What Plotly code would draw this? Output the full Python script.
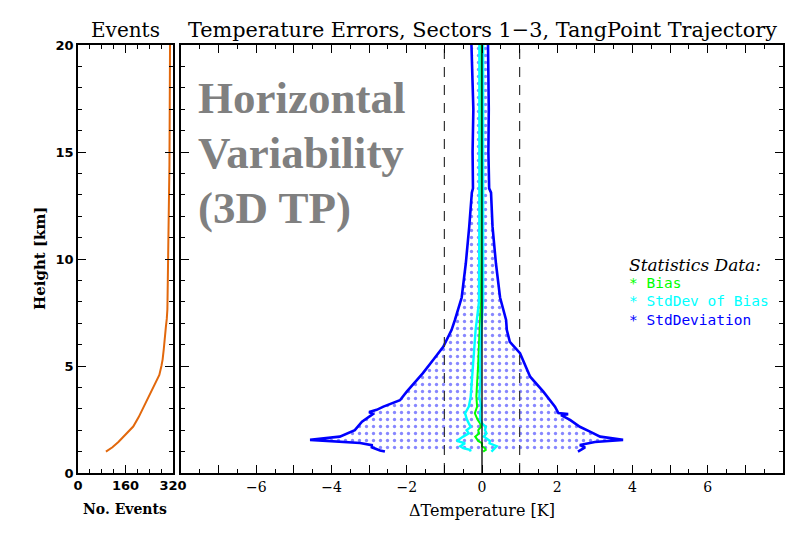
import plotly.graph_objects as go

# ---------------- data ----------------
# Events panel (number of events vs height)
event_heights = [1.0, 1.2, 1.45, 1.8, 2.17, 2.6, 3.05, 3.5, 3.94, 4.3, 4.58, 5.0, 5.3,
                 5.8, 6.18, 6.5, 6.83, 7.2, 7.63, 8.5, 9.24, 10.5, 11.6, 13.0, 14.4, 17.0, 20.0]
event_counts = [94, 116, 136, 162, 186, 204, 220, 238, 254, 266, 274, 281, 285,
                289, 291, 294, 296, 299, 301, 302, 303, 304, 305, 306, 308, 309, 310]

# StdDeviation envelope (left / right blue lines)
std_lower_h = [1.0, 1.05, 1.2, 1.3, 1.4, 1.55, 1.7, 2.0, 2.4, 2.75, 2.85, 2.95, 3.1, 3.4,
               3.8, 4.67, 5.28, 5.9, 6.68, 7.15, 8.2, 9.8, 11.5, 13.1, 13.3, 15.0, 17.0, 18.5, 20.0]
std_lower = [-2.58, -2.71, -2.93, -2.93, -3.24, -4.57, -3.78, -3.38, -3.19, -2.9, -3.0, -2.8,
             -2.62, -2.18, -2.0, -1.57, -1.30, -1.03, -0.81, -0.72, -0.54, -0.43, -0.34, -0.27,
             -0.24, -0.25, -0.23, -0.26, -0.28]
std_upper_h = [1.0, 1.2, 1.31, 1.45, 1.55, 1.7, 1.93, 2.16, 2.48, 2.7, 2.75, 2.8, 3.1, 3.8,
               4.5, 5.6, 6.13, 6.68, 7.15, 8.2, 9.8, 11.5, 13.1, 13.3, 15.0, 17.0, 20.0]
std_upper = [2.55, 2.74, 2.6, 3.0, 3.75, 3.14, 2.87, 2.6, 2.34, 2.1, 2.29, 2.03, 1.94, 1.63,
             1.28, 1.01, 0.74, 0.66, 0.64, 0.48, 0.37, 0.28, 0.24, 0.19, 0.17, 0.18, 0.16]

# Bias and StdDev of Bias
bias_h = [1.0, 1.08, 1.16, 1.25, 1.39, 1.5, 1.7, 1.85, 2.0, 2.15, 2.32, 2.5, 2.79, 3.1,
          3.57, 4.34, 5.12, 6.0, 6.68, 8.0, 10.0, 12.0, 14.0, 16.0, 18.0, 20.0]
bias = [0.03, 0.1, 0.08, 0.0, 0.0, -0.1, -0.18, -0.08, -0.1, -0.03, -0.05, -0.12, -0.19, -0.13,
        -0.15, -0.12, -0.1, -0.08, -0.06, -0.03, -0.02, -0.02, -0.02, -0.02, -0.02, -0.02]
sdbias_lower = [-0.3, -0.32, -0.5, -0.58, -0.45, -0.67, -0.5, -0.35, -0.41, -0.3, -0.35, -0.4,
                -0.45, -0.35, -0.3, -0.27, -0.25, -0.2, -0.17, -0.08, -0.07, -0.07, -0.07,
                -0.07, -0.07, -0.07]
sdbias_upper = [0.25, 0.3, 0.35, 0.39, 0.2, 0.21, 0.05, 0.12, 0.08, 0.1, 0.0, -0.04, -0.05,
                -0.02, -0.07, -0.04, -0.05, -0.03, -0.02, 0.03, 0.03, 0.03, 0.03, 0.03, 0.03, 0.03]

ref_lines = [-1.0, 1.0]
height_range = [0, 20]
event_ticks = [0, 160, 320]
temp_ticks = list(range(-8, 9))
temp_labels = ["" if (v % 2 or abs(v) == 8) else ("\u2212" + str(-v) if v < 0 else str(v)) for v in temp_ticks]

# ---------------- figure ----------------
# page body has an 8px margin, so the figure is 784x524 and offset by 8px
OFF = 8
W, H = 800 - 2 * OFF, 540 - 2 * OFF
def px(x):
    return (x - OFF) / W
def py(y):
    return 1 - (y - OFF) / H

fig = go.Figure()

BLUE = "#0000ff"
GREEN = "#00ff00"
CYAN = "#00ffff"
ORANGE = "#e2680c"

# events
fig.add_trace(go.Scatter(x=event_counts, y=event_heights, mode="lines",
                         line=dict(color=ORANGE, width=2), xaxis="x", yaxis="y",
                         showlegend=False, hoverinfo="skip"))

# dotted fill between std lines
poly_x = std_lower + std_upper[::-1]
poly_y = std_lower_h + std_upper_h[::-1]
fig.add_trace(go.Scatter(x=poly_x, y=poly_y, mode="none", fill="toself",
                         fillcolor="rgba(0,0,0,0)",
                         fillpattern=dict(shape=".", fgcolor="#1010ff", bgcolor="rgba(0,0,0,0)",
                                          size=7, solidity=0.18),
                         xaxis="x2", yaxis="y2", showlegend=False, hoverinfo="skip"))

for xs, ys in [(std_lower, std_lower_h), (std_upper, std_upper_h)]:
    fig.add_trace(go.Scatter(x=xs, y=ys, mode="lines", line=dict(color=BLUE, width=2.6),
                             xaxis="x2", yaxis="y2", showlegend=False, hoverinfo="skip"))

fig.add_trace(go.Scatter(x=bias, y=bias_h, mode="lines", line=dict(color=GREEN, width=2),
                         xaxis="x2", yaxis="y2", showlegend=False, hoverinfo="skip"))

for xs in [sdbias_lower, sdbias_upper]:
    fig.add_trace(go.Scatter(x=xs, y=bias_h, mode="lines", line=dict(color=CYAN, width=2.4),
                             xaxis="x2", yaxis="y2", showlegend=False, hoverinfo="skip"))

# reference lines
for xv in ref_lines:
    fig.add_trace(go.Scatter(x=[xv, xv], y=height_range, mode="lines",
                             line=dict(color="#333333", width=1.2, dash="10px,8px"),
                             xaxis="x2", yaxis="y2", showlegend=False, hoverinfo="skip"))
fig.add_trace(go.Scatter(x=[0, 0], y=height_range, mode="lines",
                         line=dict(color="black", width=1.3),
                         xaxis="x2", yaxis="y2", showlegend=False, hoverinfo="skip"))

tickfont_l = dict(family="DejaVu Sans", size=13, color="black", weight="bold")
tickfont_m = dict(family="DejaVu Serif", size=14, color="black")
common = dict(showline=True, linecolor="black", linewidth=1.5, mirror="allticks",
              ticks="inside", ticklen=8, tickwidth=1.2, tickcolor="black",
              showgrid=False, zeroline=False)

ydom = [py(473), py(45)]
fig.update_layout(
    width=W, height=H,
    margin=dict(l=0, r=0, t=0, b=0, autoexpand=False),
    paper_bgcolor="white", plot_bgcolor="white",
    xaxis=dict(domain=[px(78), px(173)], range=[0, 320], tickvals=event_ticks,
               tickfont=tickfont_l, anchor="y",
               minor=dict(ticks="inside", dtick=40, ticklen=4, tickcolor="black"), **common),
    yaxis=dict(domain=ydom, range=height_range, tickvals=[0, 5, 10, 15, 20],
               tickfont=tickfont_l, anchor="x",
               minor=dict(ticks="inside", dtick=1, ticklen=4, tickcolor="black"), **common),
    xaxis2=dict(domain=[px(181), px(783)], range=[-8, 8], tickvals=temp_ticks,
                ticktext=temp_labels, tickfont=tickfont_m, anchor="y2",
                minor=dict(ticks="inside", dtick=0.5, ticklen=4, tickcolor="black"), **common),
    yaxis2=dict(domain=ydom, range=height_range, tickvals=[0, 5, 10, 15, 20],
                showticklabels=False, anchor="x2",
                minor=dict(ticks="inside", dtick=1, ticklen=4, tickcolor="black"), **common),
)

serif = "DejaVu Serif"
def ann(text, x, y, size, color="black", family=serif, xanchor="center", angle=0, **kw):
    fig.add_annotation(text=text, x=px(x), y=py(y), xref="paper", yref="paper",
                       showarrow=False, xanchor=xanchor, yanchor="middle", textangle=angle,
                       font=dict(family=family, size=size, color=color, **kw))

ann("Events", 125, 30, 20)
ann("Temperature Errors, Sectors 1\u22123, TangPoint Trajectory", 482, 30, 20.8)
ann("Height [km]", 40, 258, 15, angle=-90, weight="bold")
ann("No. Events", 125, 509, 14, weight="bold")
ann("\u0394Temperature [K]", 482, 510, 16)

for txt, yy in [("Horizontal", 98), ("Variability", 153), ("(3D TP)", 208)]:
    ann(txt, 196, yy, 45, color="#808080", family="Liberation Serif", xanchor="left", weight="bold")

ann("<i>Statistics Data:</i>", 627, 265, 17, xanchor="left")
mono = "DejaVu Sans Mono"
for txt, col, yy in [("* Bias", GREEN, 283), ("* StdDev of Bias", CYAN, 301), ("* StdDeviation", BLUE, 320)]:
    ann(txt, 627, yy, 14.5, color=col, family=mono, xanchor="left")

fig.write_html("out.html")
